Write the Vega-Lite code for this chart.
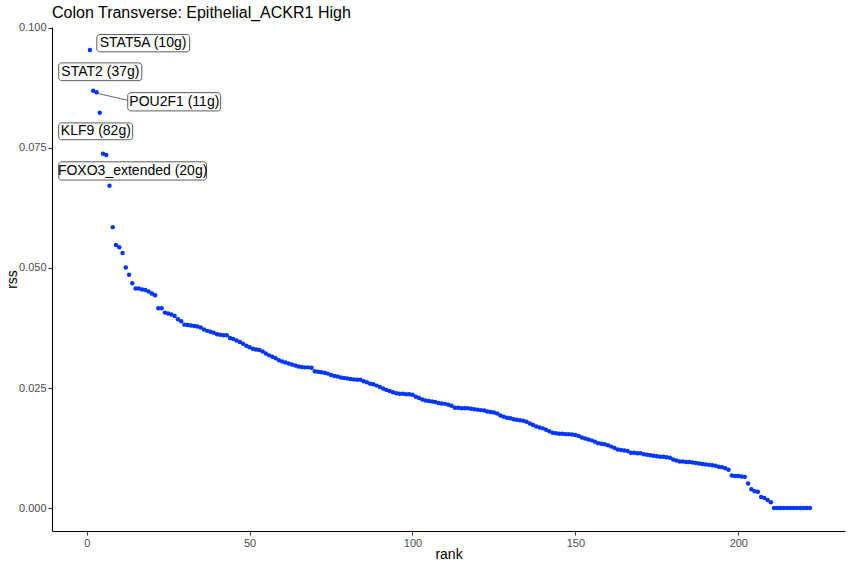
{
  "$schema": "https://vega.github.io/schema/vega-lite/v6.json",
  "width": 793,
  "height": 504,
  "autosize": {"type": "none"},
  "padding": {"left": 52, "top": 27, "right": 6, "bottom": 37},
  "background": "white",
  "config": {
    "font": "Liberation Sans",
    "view": {"stroke": null},
    "axis": {"grid": false, "domainColor": "black", "domainWidth": 1.1, "tickColor": "#333333", "tickSize": 4, "labelColor": "#4d4d4d", "labelFontSize": 11, "titleFontSize": 14, "titleFontWeight": "normal", "titleColor": "black", "labelFont": "Liberation Sans", "titleFont": "Liberation Sans"}
  },
  "title": {"text": "Colon Transverse: Epithelial_ACKR1 High", "anchor": "start", "frame": "group", "fontSize": 16, "fontWeight": "normal", "font": "Liberation Sans", "color": "black", "offset": 1},
  "datasets": {
    "pts": [
      {"rank":1,"rss":0.0954},{"rank":2,"rss":0.0869},{"rank":3,"rss":0.0866},{"rank":4,"rss":0.0823},{"rank":5,"rss":0.0738},
      {"rank":6,"rss":0.0735},{"rank":7,"rss":0.0671},{"rank":8,"rss":0.0585},{"rank":9,"rss":0.0548},{"rank":10,"rss":0.0543},
      {"rank":11,"rss":0.0531},{"rank":12,"rss":0.0501},{"rank":13,"rss":0.0486},{"rank":14,"rss":0.0468},{"rank":15,"rss":0.0457},
      {"rank":16,"rss":0.0457},{"rank":17,"rss":0.0455},{"rank":18,"rss":0.0454},{"rank":19,"rss":0.0451},{"rank":20,"rss":0.0447},
      {"rank":21,"rss":0.0443},{"rank":22,"rss":0.0416},{"rank":23,"rss":0.0416},{"rank":24,"rss":0.0407},{"rank":25,"rss":0.0405},
      {"rank":26,"rss":0.0403},{"rank":27,"rss":0.0400},{"rank":28,"rss":0.0393},{"rank":29,"rss":0.0389},{"rank":30,"rss":0.0382},
      {"rank":31,"rss":0.0381},{"rank":32,"rss":0.0380},{"rank":33,"rss":0.0379},{"rank":34,"rss":0.0378},{"rank":35,"rss":0.0376},
      {"rank":36,"rss":0.0372},{"rank":37,"rss":0.0369},{"rank":38,"rss":0.0367},{"rank":39,"rss":0.0365},{"rank":40,"rss":0.0362},
      {"rank":41,"rss":0.0361},{"rank":42,"rss":0.0360},{"rank":43,"rss":0.0360},{"rank":44,"rss":0.0354},{"rank":45,"rss":0.0352},
      {"rank":46,"rss":0.0349},{"rank":47,"rss":0.0346},{"rank":48,"rss":0.0342},{"rank":49,"rss":0.0338},{"rank":50,"rss":0.0335},
      {"rank":51,"rss":0.0332},{"rank":52,"rss":0.0330},{"rank":53,"rss":0.0329},{"rank":54,"rss":0.0326},{"rank":55,"rss":0.0322},
      {"rank":56,"rss":0.0318},{"rank":57,"rss":0.0315},{"rank":58,"rss":0.0312},{"rank":59,"rss":0.0308},{"rank":60,"rss":0.0305},
      {"rank":61,"rss":0.0303},{"rank":62,"rss":0.0301},{"rank":63,"rss":0.0299},{"rank":64,"rss":0.0297},{"rank":65,"rss":0.0295},
      {"rank":66,"rss":0.0294},{"rank":67,"rss":0.0293},{"rank":68,"rss":0.0293},{"rank":69,"rss":0.0292},{"rank":70,"rss":0.0285},
      {"rank":71,"rss":0.0284},{"rank":72,"rss":0.0283},{"rank":73,"rss":0.0282},{"rank":74,"rss":0.0280},{"rank":75,"rss":0.0277},
      {"rank":76,"rss":0.0275},{"rank":77,"rss":0.0274},{"rank":78,"rss":0.0272},{"rank":79,"rss":0.0271},{"rank":80,"rss":0.0270},
      {"rank":81,"rss":0.0269},{"rank":82,"rss":0.0268},{"rank":83,"rss":0.0267},{"rank":84,"rss":0.0267},{"rank":85,"rss":0.0264},
      {"rank":86,"rss":0.0262},{"rank":87,"rss":0.0259},{"rank":88,"rss":0.0258},{"rank":89,"rss":0.0255},{"rank":90,"rss":0.0252},
      {"rank":91,"rss":0.0249},{"rank":92,"rss":0.0246},{"rank":93,"rss":0.0244},{"rank":94,"rss":0.0241},{"rank":95,"rss":0.0239},
      {"rank":96,"rss":0.0238},{"rank":97,"rss":0.0238},{"rank":98,"rss":0.0237},{"rank":99,"rss":0.0237},{"rank":100,"rss":0.0236},
      {"rank":101,"rss":0.0232},{"rank":102,"rss":0.0229},{"rank":103,"rss":0.0226},{"rank":104,"rss":0.0224},{"rank":105,"rss":0.0223},
      {"rank":106,"rss":0.0222},{"rank":107,"rss":0.0221},{"rank":108,"rss":0.0219},{"rank":109,"rss":0.0218},{"rank":110,"rss":0.0217},
      {"rank":111,"rss":0.0215},{"rank":112,"rss":0.0213},{"rank":113,"rss":0.0209},{"rank":114,"rss":0.0209},{"rank":115,"rss":0.0208},
      {"rank":116,"rss":0.0208},{"rank":117,"rss":0.0208},{"rank":118,"rss":0.0207},{"rank":119,"rss":0.0206},{"rank":120,"rss":0.0205},
      {"rank":121,"rss":0.0204},{"rank":122,"rss":0.0203},{"rank":123,"rss":0.0201},{"rank":124,"rss":0.0200},{"rank":125,"rss":0.0199},
      {"rank":126,"rss":0.0197},{"rank":127,"rss":0.0193},{"rank":128,"rss":0.0190},{"rank":129,"rss":0.0188},{"rank":130,"rss":0.0187},
      {"rank":131,"rss":0.0185},{"rank":132,"rss":0.0184},{"rank":133,"rss":0.0183},{"rank":134,"rss":0.0182},{"rank":135,"rss":0.0180},
      {"rank":136,"rss":0.0176},{"rank":137,"rss":0.0173},{"rank":138,"rss":0.0170},{"rank":139,"rss":0.0168},{"rank":140,"rss":0.0166},
      {"rank":141,"rss":0.0163},{"rank":142,"rss":0.0160},{"rank":143,"rss":0.0157},{"rank":144,"rss":0.0156},{"rank":145,"rss":0.0155},
      {"rank":146,"rss":0.0155},{"rank":147,"rss":0.0154},{"rank":148,"rss":0.0154},{"rank":149,"rss":0.0153},{"rank":150,"rss":0.0152},
      {"rank":151,"rss":0.0150},{"rank":152,"rss":0.0147},{"rank":153,"rss":0.0145},{"rank":154,"rss":0.0143},{"rank":155,"rss":0.0141},
      {"rank":156,"rss":0.0138},{"rank":157,"rss":0.0135},{"rank":158,"rss":0.0134},{"rank":159,"rss":0.0133},{"rank":160,"rss":0.0131},
      {"rank":161,"rss":0.0128},{"rank":162,"rss":0.0125},{"rank":163,"rss":0.0122},{"rank":164,"rss":0.0121},{"rank":165,"rss":0.0120},
      {"rank":166,"rss":0.0119},{"rank":167,"rss":0.0115},{"rank":168,"rss":0.0115},{"rank":169,"rss":0.0114},{"rank":170,"rss":0.0114},
      {"rank":171,"rss":0.0112},{"rank":172,"rss":0.0111},{"rank":173,"rss":0.0110},{"rank":174,"rss":0.0109},{"rank":175,"rss":0.0108},
      {"rank":176,"rss":0.0107},{"rank":177,"rss":0.0107},{"rank":178,"rss":0.0106},{"rank":179,"rss":0.0105},{"rank":180,"rss":0.0101},
      {"rank":181,"rss":0.0099},{"rank":182,"rss":0.0097},{"rank":183,"rss":0.0097},{"rank":184,"rss":0.0096},{"rank":185,"rss":0.0096},
      {"rank":186,"rss":0.0095},{"rank":187,"rss":0.0094},{"rank":188,"rss":0.0093},{"rank":189,"rss":0.0092},{"rank":190,"rss":0.0091},
      {"rank":191,"rss":0.0090},{"rank":192,"rss":0.0089},{"rank":193,"rss":0.0088},{"rank":194,"rss":0.0086},{"rank":195,"rss":0.0085},
      {"rank":196,"rss":0.0083},{"rank":197,"rss":0.0080},{"rank":198,"rss":0.0068},{"rank":199,"rss":0.0067},{"rank":200,"rss":0.0067},
      {"rank":201,"rss":0.0066},{"rank":202,"rss":0.0065},{"rank":203,"rss":0.0051},{"rank":204,"rss":0.0039},{"rank":205,"rss":0.0035},
      {"rank":206,"rss":0.0034},{"rank":207,"rss":0.0023},{"rank":208,"rss":0.0021},{"rank":209,"rss":0.0017},{"rank":210,"rss":0.0012},
      {"rank":211,"rss":0},{"rank":212,"rss":0},{"rank":213,"rss":0},{"rank":214,"rss":0},{"rank":215,"rss":0},
      {"rank":216,"rss":0},{"rank":217,"rss":0},{"rank":218,"rss":0},{"rank":219,"rss":0},{"rank":220,"rss":0},
      {"rank":221,"rss":0},{"rank":222,"rss":0}
    ],
    "labels": [
      {"label":"STAT5A (10g)","lx":17.3,"ly":0.0968,"x0":3.1,"x1":31.6,"y0":0.0950,"y1":0.0986},
      {"label":"STAT2 (37g)","lx":4.2,"ly":0.0908,"x0":-8.6,"x1":16.9,"y0":0.0890,"y1":0.0927},
      {"label":"POU2F1 (11g)","lx":26.9,"ly":0.0846,"x0":12.6,"x1":41.1,"y0":0.0827,"y1":0.0865},
      {"label":"KLF9 (82g)","lx":2.8,"ly":0.0785,"x0":-8.6,"x1":14.1,"y0":0.0767,"y1":0.0802},
      {"label":"FOXO3_extended (20g)","lx":14.1,"ly":0.0702,"x0":-8.6,"x1":36.8,"y0":0.0683,"y1":0.0721}
    ],
    "segs": [
      {"sx":3,"sy":0.0864,"ex":12.6,"ey":0.0849}
    ]
  },
  "layer": [
    {
      "data": {"name": "segs"},
      "mark": {"type": "rule", "color": "#666666", "strokeWidth": 1},
      "encoding": {
        "x": {"field": "sx", "type": "quantitative", "scale": {"domain": [-10.65, 232.75], "nice": false, "zero": false}},
        "y": {"field": "sy", "type": "quantitative", "scale": {"domain": [-0.00477, 0.10017], "nice": false, "zero": false}},
        "x2": {"field": "ex"},
        "y2": {"field": "ey"}
      }
    },
    {
      "data": {"name": "pts"},
      "mark": {"type": "circle", "size": 20, "color": "#0036ff", "opacity": 1},
      "encoding": {
        "x": {"field": "rank", "type": "quantitative", "scale": {"domain": [-10.65, 232.75], "nice": false, "zero": false},
              "axis": {"values": [0, 50, 100, 150, 200], "title": "rank", "titlePadding": -1, "labelPadding": 2, "domainColor": "black"}},
        "y": {"field": "rss", "type": "quantitative", "scale": {"domain": [-0.00477, 0.10017], "nice": false, "zero": false},
              "axis": {"values": [0, 0.025, 0.05, 0.075, 0.1], "format": ".3f", "title": "rss", "titlePadding": -1, "labelPadding": 2}}
      }
    },
    {
      "data": {"name": "labels"},
      "mark": {"type": "rect", "fill": "white", "stroke": "#333333", "strokeWidth": 0.8, "cornerRadius": 3},
      "encoding": {
        "x": {"field": "x0", "type": "quantitative"},
        "x2": {"field": "x1"},
        "y": {"field": "y0", "type": "quantitative"},
        "y2": {"field": "y1"}
      }
    },
    {
      "data": {"name": "labels"},
      "mark": {"type": "text", "fontSize": 14, "font": "Liberation Sans", "color": "black", "align": "center", "baseline": "middle"},
      "encoding": {
        "x": {"field": "lx", "type": "quantitative"},
        "y": {"field": "ly", "type": "quantitative"},
        "text": {"field": "label"}
      }
    }
  ]
}
